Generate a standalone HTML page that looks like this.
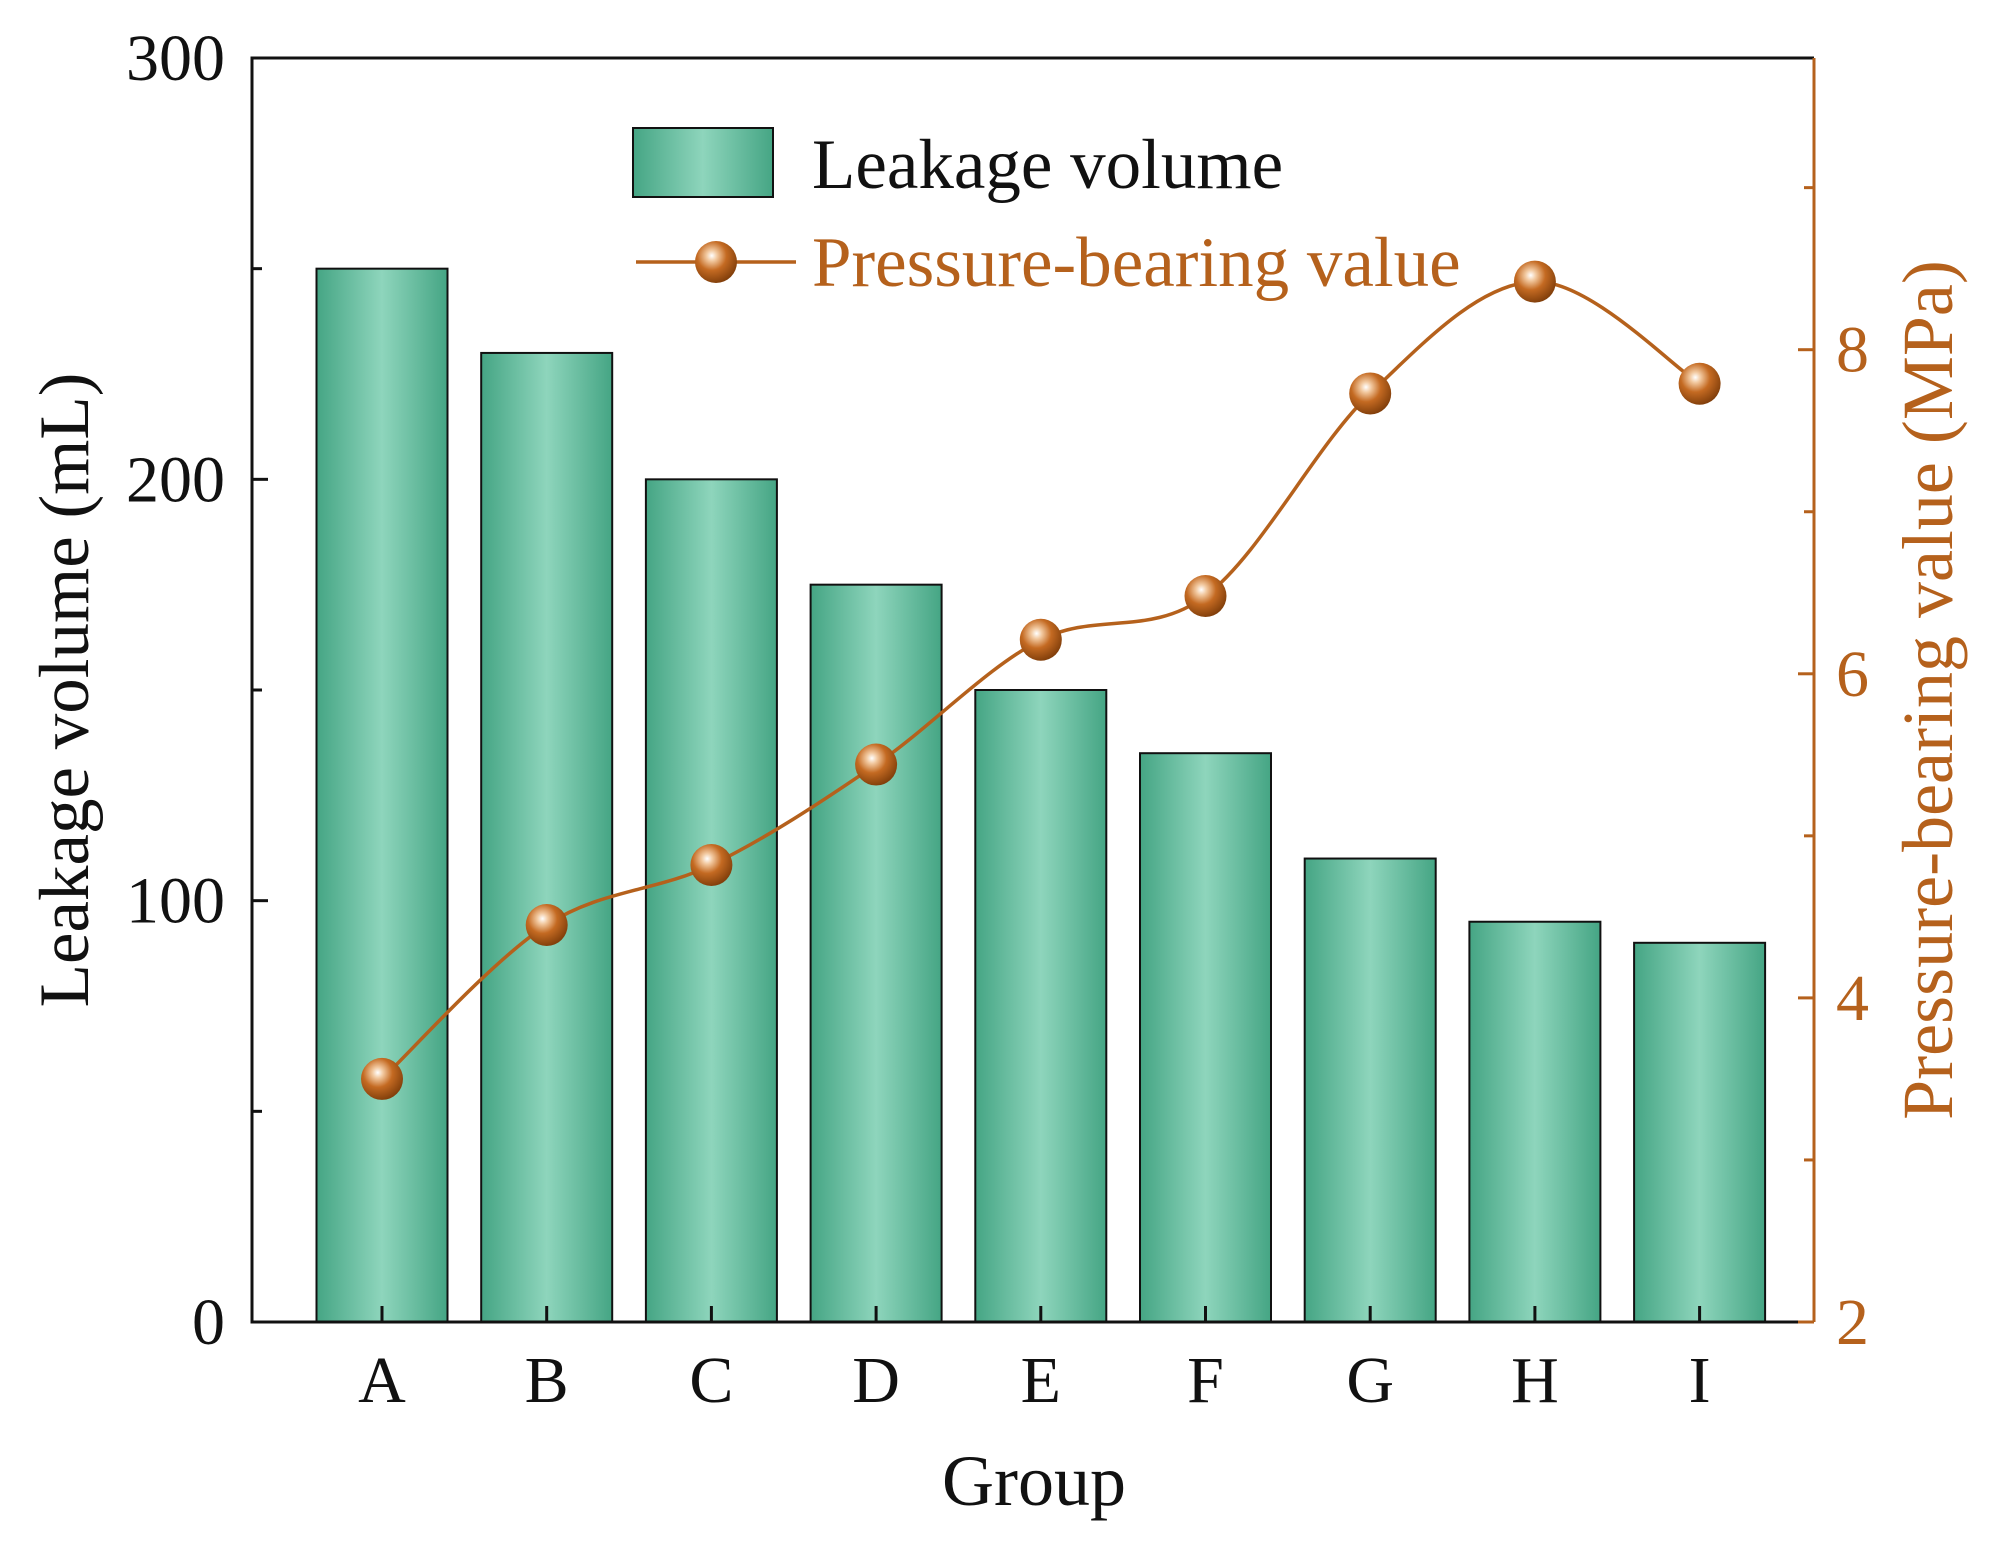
<!DOCTYPE html>
<html><head><meta charset="utf-8"><style>
html,body{margin:0;padding:0;background:#fff}
svg{display:block}
text{font-family:"Liberation Serif",serif}
</style></head><body>
<svg id="chart" width="2004" height="1557" viewBox="0 0 2004 1557" xmlns="http://www.w3.org/2000/svg">
<defs>
<linearGradient id="barGrad" x1="0" x2="1" y1="0" y2="0">
<stop offset="0" stop-color="#45a584"/><stop offset="0.5" stop-color="#8ed5bc"/><stop offset="1" stop-color="#45a584"/>
</linearGradient>
<radialGradient id="ballGrad" cx="0.4" cy="0.35" r="0.7">
<stop offset="0" stop-color="#fff"/><stop offset="0.18" stop-color="#f2c9a0"/><stop offset="0.5" stop-color="#c46a22"/><stop offset="1" stop-color="#7a3a08"/>
</radialGradient>
</defs>
<g id="plot"></g>
</svg>
<script>
const categories=["A","B","C","D","E","F","G","H","I"];
const leakage=[250,230,200,175,150,135,110,95,90];
const pressure=[3.5,4.45,4.82,5.44,6.21,6.48,7.73,8.42,7.79];
const leftTicks=[0,100,200,300];
const rightTicks=[2,4,6,8];
const L=252,R=1814,T=58,B=1322;
const NS="http://www.w3.org/2000/svg";
const g=document.getElementById('plot');
const yL=v=>B-(v/300)*(B-T);
const yR=v=>B-(v-2)/(9.8-2)*(B-T);
const step=164.7, x0=382;
const xC=i=>x0+i*step;
const bw=131;
const BRN="#b5611c";
function mk(tag,attrs,parent){const e=document.createElementNS(NS,tag);for(const k in attrs)e.setAttribute(k,attrs[k]);(parent||g).appendChild(e);return e;}
leakage.forEach((v,i)=>{
 const r=mk('rect',{x:xC(i)-bw/2,y:yL(v),width:bw,height:B-yL(v),fill:'url(#barGrad)',stroke:'#111','stroke-width':2});
 
 
});
const fr=mk('path',{d:`M${R},${T} L${L},${T} L${L},${B} L${R},${B}`,fill:'none',stroke:'#111','stroke-width':3});


const ra=mk('line',{x1:R,y1:T,x2:R,y2:B,stroke:BRN,'stroke-width':3});


[0,50,100,150,200,250,300].forEach(v=>{
 const len=v%100===0?16:10;
 mk('line',{x1:L,y1:yL(v),x2:L+len,y2:yL(v),stroke:'#111','stroke-width':3});
});
leftTicks.forEach(v=>{
 const t=mk('text',{x:225,y:yL(v)+22,'text-anchor':'end','font-size':66,fill:'#111'});
 t.textContent=v;
 
 
});
[2,3,4,5,6,7,8,9].forEach(v=>{
 const len=v%2===0?16:10;
 mk('line',{x1:R,y1:yR(v),x2:R-len,y2:yR(v),stroke:BRN,'stroke-width':3});
});
rightTicks.forEach(v=>{
 const t=mk('text',{x:1836,y:yR(v)+22,'font-size':66,fill:BRN});
 t.textContent=v;
 
 
});
categories.forEach((c,i)=>{
 mk('line',{x1:xC(i),y1:B,x2:xC(i),y2:B-16,stroke:'#111','stroke-width':3});
 const t=mk('text',{x:xC(i),y:1402,'text-anchor':'middle','font-size':66,fill:'#111'});
 t.textContent=c;
 
 
});
const pts=pressure.map((v,i)=>[xC(i),yR(v)]);
let d=`M${pts[0][0]},${pts[0][1]}`;
for(let i=0;i<pts.length-1;i++){
 const p0=pts[i-1]||pts[i],p1=pts[i],p2=pts[i+1],p3=pts[i+2]||pts[i+1];
 const c1=[p1[0]+(p2[0]-p0[0])/6,p1[1]+(p2[1]-p0[1])/6];
 const c2=[p2[0]-(p3[0]-p1[0])/6,p2[1]-(p3[1]-p1[1])/6];
 d+=` C${c1[0]},${c1[1]} ${c2[0]},${c2[1]} ${p2[0]},${p2[1]}`;
}
const ln=mk('path',{d:d,fill:'none',stroke:BRN,'stroke-width':3.5});


pts.forEach((p,i)=>{
 const c=mk('circle',{cx:p[0],cy:p[1],r:21,fill:'url(#ballGrad)'});
 
 
});
const yt=mk('text',{x:0,y:0,transform:'translate(88,690) rotate(-90)','text-anchor':'middle','font-size':71,fill:'#111'});
yt.textContent='Leakage volume (mL)';


const yt2=mk('text',{x:0,y:0,transform:'translate(1952,690) rotate(-90)','text-anchor':'middle','font-size':72,fill:BRN});
yt2.textContent='Pressure-bearing value (MPa)';


const xt=mk('text',{x:1034,y:1505,'text-anchor':'middle','font-size':72,fill:'#111'});
xt.textContent='Group';


const lr=mk('rect',{x:633,y:128,width:140,height:69,fill:'url(#barGrad)',stroke:'#111','stroke-width':2});


const lt=mk('text',{x:812,y:188,'font-size':71,fill:'#111'});
lt.textContent='Leakage volume';


const ll=mk('line',{x1:636,y1:262,x2:796,y2:262,stroke:BRN,'stroke-width':3.5});


const lc=mk('circle',{cx:716,cy:262,r:21,fill:'url(#ballGrad)'});


const lt2=mk('text',{x:812,y:286,'font-size':71,fill:BRN});
lt2.textContent='Pressure-bearing value';


</script>
</body></html>
